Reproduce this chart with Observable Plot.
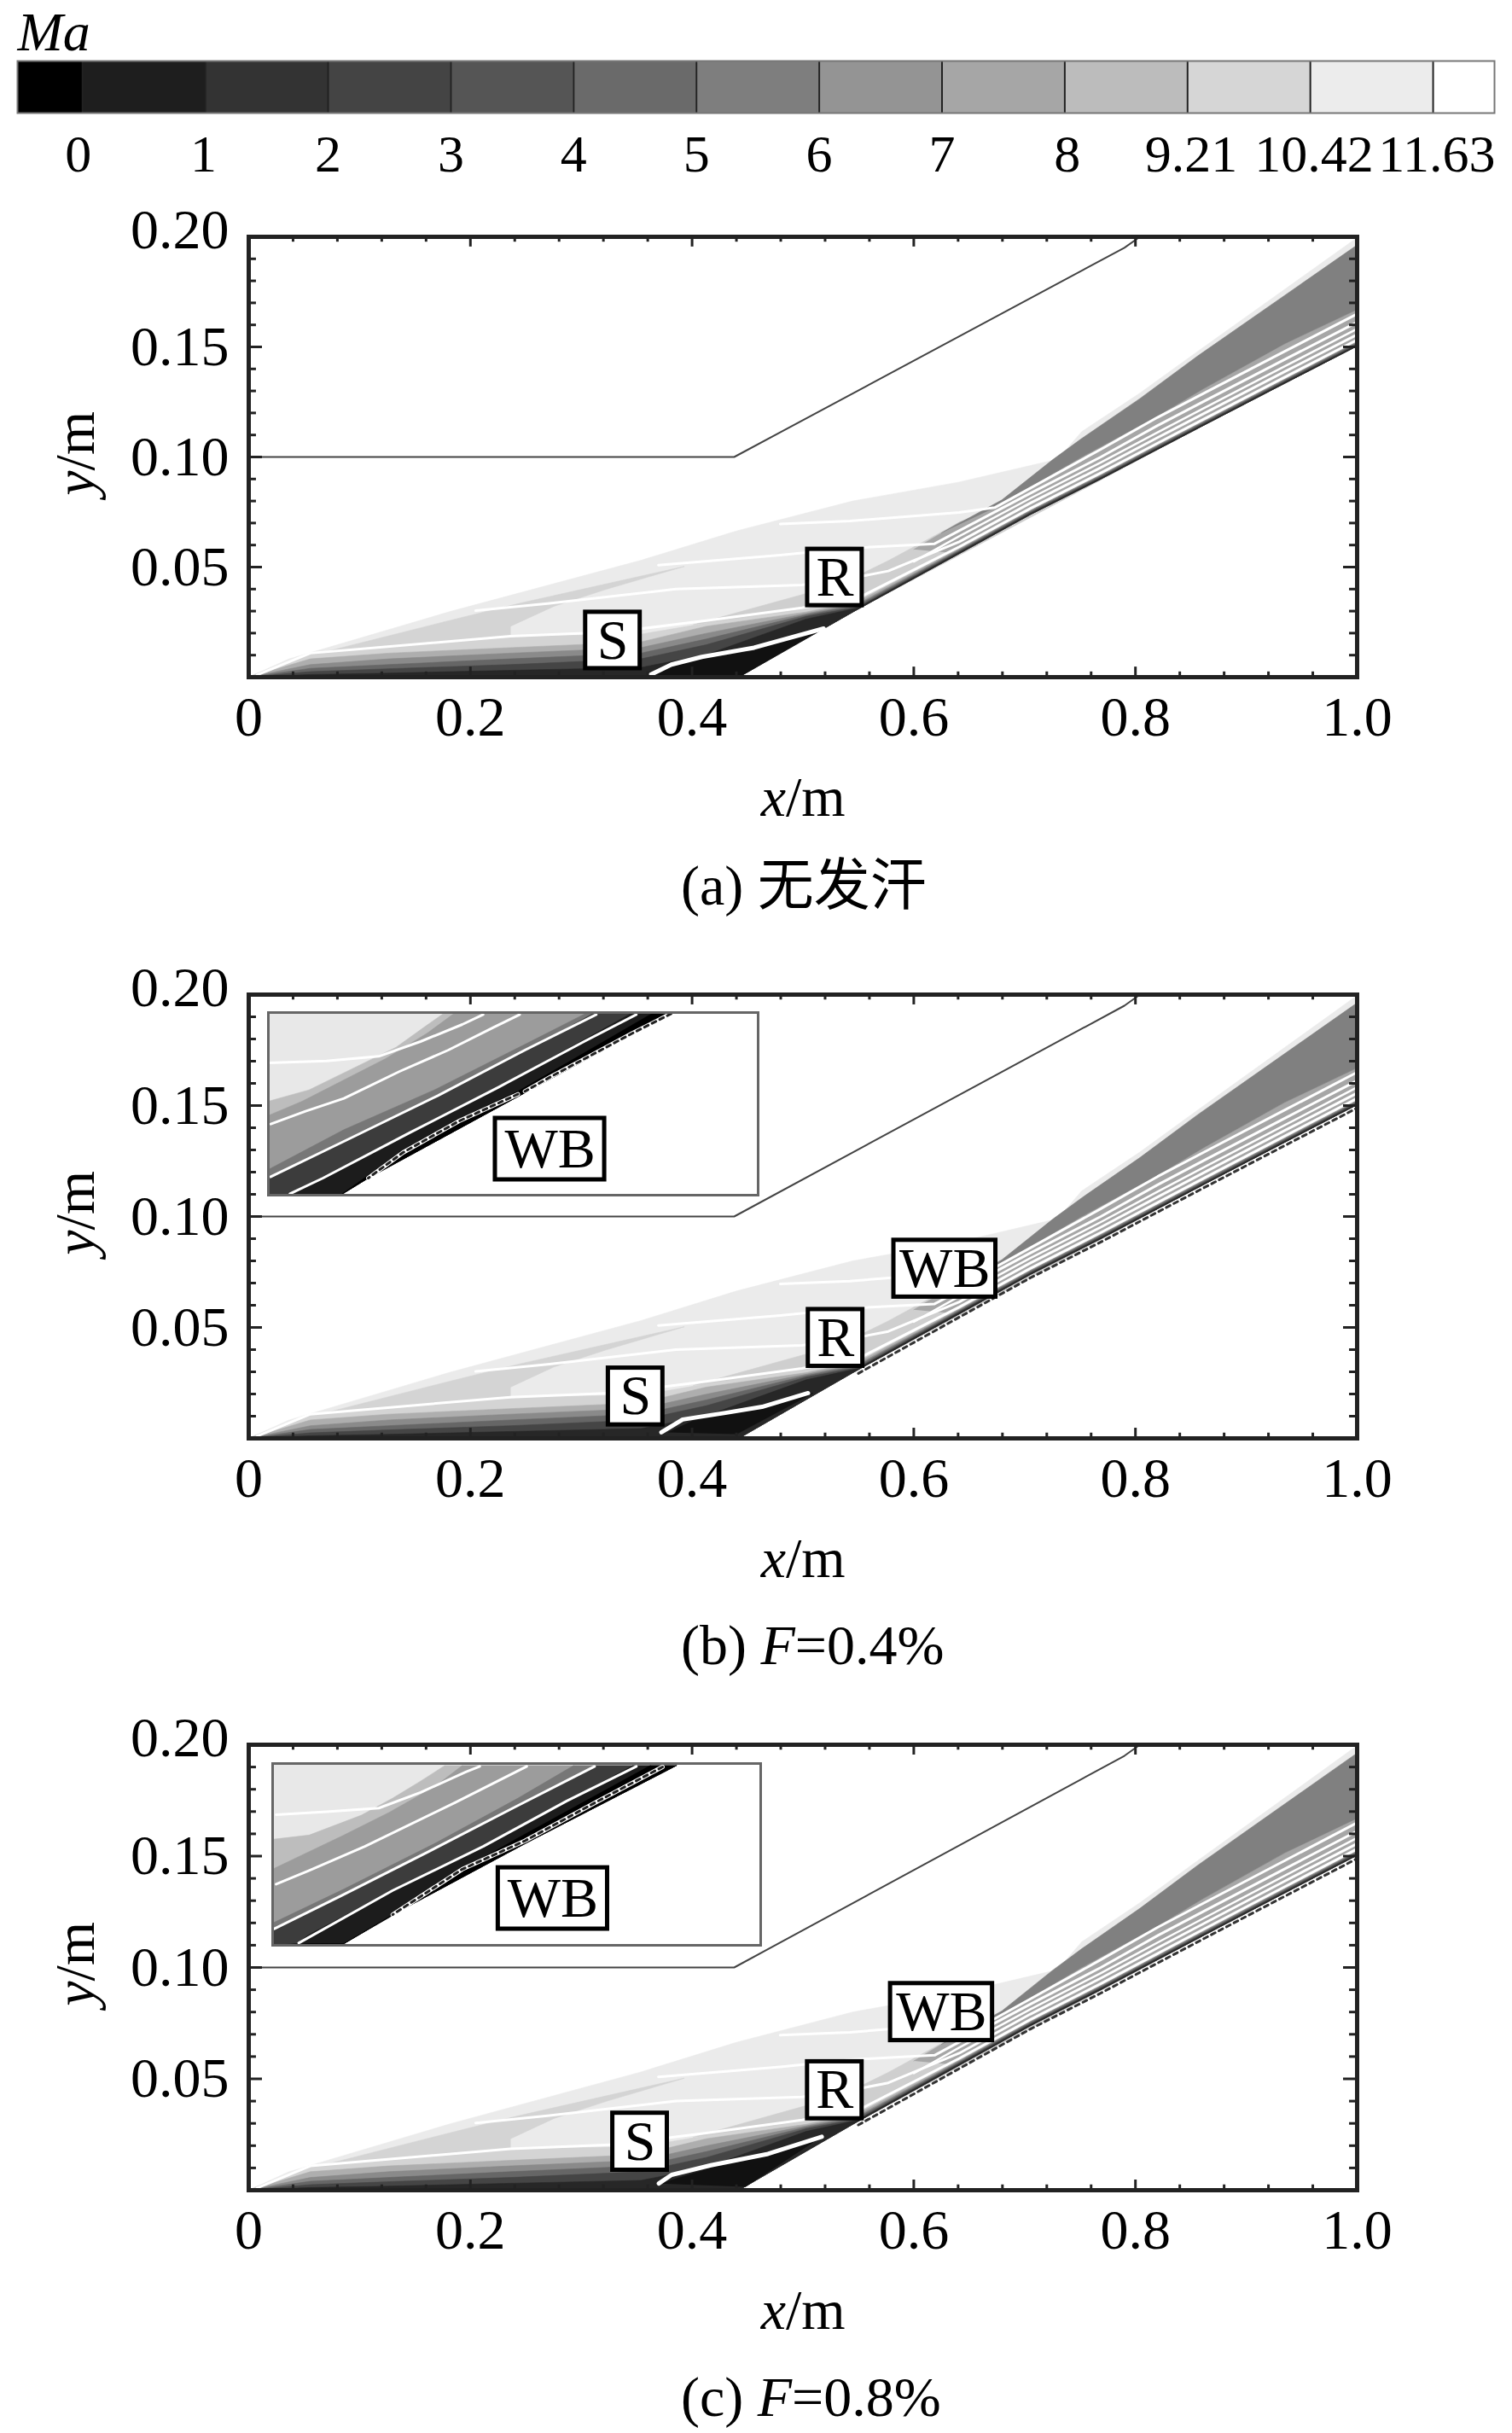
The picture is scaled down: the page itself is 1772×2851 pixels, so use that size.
<!DOCTYPE html>
<html><head><meta charset="utf-8">
<script src="https://cdn.jsdelivr.net/npm/d3@7"></script>
<script src="https://cdn.jsdelivr.net/npm/@observablehq/plot@0.6"></script>
<style>
html,body{margin:0;padding:0;background:#fff}
#page{position:relative;width:1772px;height:2851px;overflow:hidden;font-family:"Liberation Serif",serif;color:#000}
#page>*{position:absolute}
.cap{left:798px;font-size:66px;line-height:1;white-space:nowrap;font-family:"Liberation Serif","Noto Sans CJK SC",serif}
</style></head><body><div id="page"></div>
<script>
// ---- colour bar ----
const barLabels=["0","1","2","3","4","5","6","7","8","9.21","10.42","11.63"];
const barLabelAt=[-.035,.985,2,3,4,5,6,7,8.02,9.03,10.03,11.03];
const barEdges=[-0.53,0,1,2,3,4,5,6,7,8,9,10,11,11.5];
const barColors=["#000","#1e1e1e","#333","#444","#555","#6a6a6a","#7e7e7e","#949494","#a6a6a6","#bcbcbc","#d6d6d6","#ececec","#fff"];
// ---- axes ----
const xMajor=[0,.2,.4,.6,.8,1];
const xLabels=["0","0.2","0.4","0.6","0.8","1.0"];
const xMinor=[.04,.08,.12,.16,.24,.28,.32,.36,.44,.48,.52,.56,.64,.68,.72,.76,.84,.88,.92,.96];
const yMajor=[.05,.1,.15];
const yMinor=[.01,.02,.03,.04,.06,.07,.08,.09,.11,.12,.13,.14,.16,.17,.18,.19];
// ---- flow field outlines (x/m, y/m) ----
const wall=[[0,0],[.442,0],[.545,.0296],[.641,.0561],[.705,.0738],[.7688,.09],[.82,.1035],[.8646,.1152],[.9348,.1335],[1,.1504]];
const upperWall=[[0,.1],[.438,.1],[.79,.195],[.804,.2]];
const outerEdge=[[0,0],[.036,.0082],[.181,.0297],[.354,.0531],[.44,.0664],[.545,.08],[.64,.0885],[.73,.099],[.7515,.1115],[.8039,.129],[.8562,.148],[.998,.1989],[1,.1989]];
const patchUpper=[[.0046,.0005],[.0438,.0083],[.181,.0257],[.244,.0335],[.393,.0503],[.3225,.0399],[.2754,.0322],[.2361,.0231],[.2361,.0186],[.0556,.0108]];
const patchLower=[[.401,.0238],[.503,.038],[.5454,.0451],[.577,.0529],[.641,.0703],[.673,.0755],[1,.1504],[.8646,.1152],[.55,.031]];
const midBand=[[.6,.058],[.641,.0703],[.6795,.0785],[.7254,.0923],[.7515,.1],[.8196,.1185],[.8614,.131],[.9348,.1515],[1,.167],[1,.1504],[.9348,.1335],[.8646,.1152],[.82,.1035],[.7688,.09],[.705,.0738],[.641,.0561]];
const grayBand=[[.625,.0655],[.6795,.0805],[.7254,.0988],[.7515,.1084],[.8039,.1265],[.8562,.1459],[1,.1963],[1,.167],[.9348,.1515],[.8614,.131],[.8196,.1185],[.7515,.1],[.7254,.0923],[.6795,.0785]];
const blEdge0=[[.004,.001],[.0556,.0108],[.2361,.0186],[.3539,.0195],[.4127,.0245],[.503,.031],[.55,.036],[.641,.059],[.705,.0763],[.7688,.0925],[.82,.106],[.8646,.1177],[.9348,.136],[1,.1529]];
const blEdge1=[[.004,.0005],[.0556,.0083],[.1262,.0109],[.2361,.0134],[.3539,.016],[.4127,.0231],[.503,.0296],[.55,.0345],[.641,.0585],[.705,.076],[.7688,.0922],[.82,.1057],[.8646,.1174],[.9348,.1357],[1,.1526]];
const blEdge2=[[.004,.0004],[.0556,.0057],[.1262,.0083],[.2361,.0109],[.3539,.0134],[.4127,.0199],[.503,.0289],[.55,.0335],[.641,.058],[.705,.0756],[.7688,.0918],[.82,.1053],[.8646,.117],[.9348,.1353],[1,.1522]];
const blEdge3=[[.004,.0003],[.0556,.004],[.1262,.0057],[.2361,.0083],[.3539,.0109],[.4127,.0173],[.503,.0283],[.55,.0328],[.641,.0576],[.705,.0752],[.7688,.0914],[.82,.1049],[.8646,.1166],[.9348,.1349],[1,.1518]];
const blEdge4=[[.004,.0002],[.0556,.0025],[.1262,.0038],[.2361,.0057],[.3539,.0083],[.4127,.0147],[.503,.0276],[.55,.032],[.641,.0571],[.705,.0747],[.7688,.0909],[.82,.1044],[.8646,.1161],[.9348,.1344],[1,.1513]];
const blEdge5=[[.004,.0001],[.0556,.0012],[.1262,.0018],[.2361,.0031],[.3539,.0044],[.4127,.0102],[.503,.0264],[.55,.0315],[.641,.0566],[.705,.0742],[.7688,.0904],[.82,.1039],[.8646,.1156],[.9348,.1339],[1,.1508]];
const lineA=[[.0075,.001],[.0556,.0109],[.2361,.0186],[.33,.0205],[.4127,.0257],[.4991,.0315],[.55,.036],[.641,.0592],[.705,.0766],[.7688,.0928],[.82,.1063],[.8646,.118],[.9348,.1363],[1,.1532]];
const lineB=[[.2047,.0302],[.2714,.0335],[.3853,.04],[.4991,.0419],[.5454,.0451],[.577,.0482],[.641,.0615],[.705,.079],[.7688,.0952],[.82,.1088],[.8646,.1205],[.9348,.1388],[1,.1556]];
const lineE=[[.6,.0525],[.641,.064],[.705,.0812],[.7688,.0975],[.82,.1112],[.8646,.1229],[.9348,.1412],[1,.1582]];
const lineC=[[.3696,.0509],[.4795,.0554],[.5454,.0587],[.6188,.0606],[.641,.0665],[.705,.0835],[.7688,.1],[.82,.1143],[.8646,.126],[.9348,.1443],[1,.1612]];
const lineD=[[.4795,.0696],[.5423,.0709],[.641,.0748],[.673,.077],[.705,.0858],[.7688,.1035],[.82,.118],[.8646,.1297],[.9348,.148],[1,.165]];
const wallBubble=[[.55,.0293],[.641,.0546],[.705,.0723],[.7688,.0885],[.82,.102],[.8646,.1137],[.9348,.132],[1,.1489]];
const bubbleA=[[.3617,.0009],[.4,.0075],[.456,.012],[.517,.0218],[.442,0]];
const sepA=[[.3617,.0009],[.3813,.0057],[.4088,.0092],[.4559,.0134],[.5187,.0221]];
const bubbleB=[[.3785,.0027],[.4046,.0088],[.4631,.0135],[.5092,.0204],[.44,.0019]];
const sepB=[[.3723,.0027],[.3915,.0085],[.43,.0115],[.4631,.0142],[.5046,.0204]];
const bubbleC=[[.3715,.003],[.417,.01],[.4685,.0157],[.509,.0215],[.448,.0015]];
const sepC=[[.37,.003],[.3815,.0069],[.417,.0112],[.4685,.0163],[.517,.024]];
// annotation boxes
const labelsA=[{t:"S",x:.3285,y:.0167},{t:"R",x:.5288,y:.0453}];
const labelsB=[{t:"S",x:.349,y:.0189},{t:"R",x:.5294,y:.0453},{t:"WB",x:.628,y:.0765}];
const labelsC=[{t:"S",x:.353,y:.0218},{t:"R",x:.5287,y:.0449},{t:"WB",x:.625,y:.08}];
// ---- inset outlines, in the inset's own picture units ----
const insetB={
 box:[83,1490,750,108],
 gas:[[83,108],[1245,108],[820,390],[370,690],[290,750],[83,750]],
 wall:[[83,750],[290,750],[370,690],[820,390],[1245,108]],
 levels:[
  [[590,108],[530,160],[450,230],[300,320],[200,380],[83,420]],
  [[620,108],[540,180],[420,270],[300,345],[180,420],[83,470]],
  [[1000,108],[820,220],[560,380],[300,520],[83,660]],
  [[1020,108],[830,240],[570,400],[310,555],[90,690],[83,700]],
  [[1130,108],[745,370],[490,530],[240,690],[150,750],[83,750]],
  [[1190,108],[800,385],[620,490],[370,680],[290,750],[170,750]]],
 lines:[
  [[83,285],[250,278],[400,262],[520,210],[640,150],[700,115]],
  [[90,500],[190,455],[300,410],[460,315],[600,240],[730,160],[805,115]],
  [[90,685],[310,555],[570,400],[820,240],[1025,115]],
  [[145,745],[240,690],[490,530],[745,370],[990,210],[1140,115]]],
 bubble:[[[1240,112],[1130,180],[1000,265],[900,330],[820,385]],[[800,395],[630,490],[470,600],[370,690]]],
 label:{t:"WB",x:892,y:588}
};
const insetC={
 box:[95,1497,718,78],
 gas:[[95,78],[1255,85],[820,360],[440,610],[300,712],[95,718]],
 wall:[[95,718],[300,712],[440,610],[820,360],[1255,85]],
 levels:[
  [[590,85],[520,140],[440,200],[350,260],[200,330],[95,345]],
  [[640,85],[560,160],[430,250],[300,330],[180,400],[95,450]],
  [[960,85],[800,200],[560,360],[300,520],[95,640]],
  [[1020,85],[800,230],[540,390],[290,545],[95,660]],
  [[1130,85],[940,210],[700,370],[440,525],[200,680],[165,712],[95,718]],
  [[1180,85],[800,340],[600,480],[430,620],[300,712],[200,712]]],
 lines:[
  [[105,258],[250,248],[400,235],[520,180],[650,108],[690,88]],
  [[105,503],[200,455],[360,370],[620,215],[825,88]],
  [[100,660],[290,545],[540,390],[790,232],[1020,88]],
  [[170,710],[440,525],[700,370],[940,210],[1140,88]]],
 bubble:[[[1215,90],[1030,210],[820,350],[640,450],[440,610]]],
 label:{t:"WB",x:900,y:553}
};
const insetFills=["#bdbdbd","#9c9c9c","#777","#3c3c3c","#1c1c1c","#000"];

const serif="Liberation Serif";
const px=d=>d[0], py=d=>d[1];
const poly=(pts,c)=>Plot.line(pts,{x:px,y:py,fill:c,stroke:c,strokeWidth:.6});
const stream=(pts,w=3)=>Plot.line(pts,{x:px,y:py,stroke:"#fff",strokeWidth:w});
const down=e=>e.concat(wall.slice().reverse());
const page=document.getElementById("page");
function place(el,left,top){el.style.position="absolute";el.style.left=left+"px";el.style.top=top+"px";page.appendChild(el);}

// colour bar
const bar=Plot.plot({width:1772,height:232,marginLeft:20,marginRight:21,marginTop:71,marginBottom:100,
 style:{fontFamily:serif,fontSize:"62px",background:"transparent",color:"#000"},
 x:{domain:[-0.53,11.5],axis:null},y:{domain:[0,1],axis:null},
 marks:[
  Plot.rect(barColors.map((c,i)=>({c,a:barEdges[i],b:barEdges[i+1]})),{x1:"a",x2:"b",y1:0,y2:1,fill:d=>d.c}),
  Plot.ruleX(barEdges.slice(1,-1),{x:d=>d,y1:0,y2:1,stroke:"#222",strokeWidth:2}),
  Plot.frame({stroke:"#777",strokeWidth:2}),
  Plot.axisX(barLabelAt,{anchor:"bottom",tickSize:0,tickPadding:24,label:null,tickFormat:d=>barLabels[barLabelAt.indexOf(d)]}),
  Plot.text(["Ma"],{frameAnchor:"top-left",dy:-58,fontStyle:"italic",fontSize:64,textAnchor:"start"})
 ]});
place(bar,0,0);

function panel(frameH,labels,bubble,sep,hasWB){
 const lab=d=>d.t==="WB"?.046:.0246;
 return Plot.plot({width:1772,height:67+frameH+210,marginLeft:291,marginRight:182,marginTop:67,marginBottom:210,
  style:{fontFamily:serif,fontSize:"66px",background:"transparent",color:"#000"},
  x:{domain:[0,1],axis:null},y:{domain:[0,.2],axis:null},
  marks:[
   poly(down(outerEdge),"#ebebeb"),
   poly(patchUpper,"#d4d4d4"),
   poly(patchLower,"#cfcfcf"),
   poly(midBand,"#a6a6a6"),
   poly(grayBand,"#808080"),
   poly(down(blEdge0),"#d4d4d4"),
   poly(down(blEdge1),"#aeaeae"),
   poly(down(blEdge2),"#8a8a8a"),
   poly(down(blEdge3),"#666"),
   poly(down(blEdge4),"#454545"),
   poly(down(blEdge5),"#272727"),
   poly(bubble,"#111"),
   stream(sep,5),
   stream(lineA),stream(lineB),stream(lineE,2.5),stream(lineC),stream(lineD),
   hasWB?Plot.line(wallBubble,{x:px,y:py,stroke:"#333",strokeWidth:3,strokeDasharray:"5 5"}):null,
   Plot.line(upperWall,{x:px,y:py,stroke:"#444",strokeWidth:2}),
   // ticks
   Plot.ruleX(xMajor,{x:d=>d,y1:0,y2:.0046,stroke:"#222",strokeWidth:3}),
   Plot.ruleX(xMinor,{x:d=>d,y1:0,y2:.0024,stroke:"#222",strokeWidth:3}),
   Plot.ruleX(xMajor,{x:d=>d,y1:.2,y2:.1954,stroke:"#222",strokeWidth:3}),
   Plot.ruleX(xMinor,{x:d=>d,y1:.2,y2:.1976,stroke:"#222",strokeWidth:3}),
   Plot.ruleY(yMajor,{y:d=>d,x1:0,x2:.0123,stroke:"#222",strokeWidth:3}),
   Plot.ruleY(yMinor,{y:d=>d,x1:0,x2:.0069,stroke:"#222",strokeWidth:3}),
   Plot.ruleY(yMajor,{y:d=>d,x1:1,x2:.9877,stroke:"#222",strokeWidth:3}),
   Plot.ruleY(yMinor,{y:d=>d,x1:1,x2:.9931,stroke:"#222",strokeWidth:3}),
   Plot.frame({stroke:"#222",strokeWidth:5}),
   // boxed labels
   Plot.rect(labels,{x1:d=>d.x-lab(d),x2:d=>d.x+lab(d),y1:d=>d.y-.0128,y2:d=>d.y+.0128,fill:"#fff",stroke:"#000",strokeWidth:5}),
   Plot.text(labels,{x:"x",y:"y",text:"t",fill:"#000",fontSize:66}),
   // axes
   Plot.axisX(xMajor,{anchor:"bottom",tickSize:0,tickPadding:22,label:null,tickFormat:(d,i)=>xLabels[i]}),
   Plot.axisY(yMajor,{anchor:"left",tickSize:0,tickPadding:23,label:null,tickFormat:d=>d.toFixed(2)}),
   Plot.axisY([.2],{anchor:"left",tickSize:0,tickPadding:23,label:null,dy:-8,tickFormat:d=>d.toFixed(2)}),
   Plot.text(["x"],{frameAnchor:"bottom",dx:-20,dy:162,textAnchor:"end",fontStyle:"italic",fill:"#000"}),
   Plot.text(["/m"],{frameAnchor:"bottom",dx:-20,dy:162,textAnchor:"start",fill:"#000"}),
   Plot.text(["y"],{frameAnchor:"left",dx:-203,dy:16,rotate:-90,textAnchor:"end",fontStyle:"italic",fill:"#000"}),
   Plot.text(["/m"],{frameAnchor:"left",dx:-203,dy:16,rotate:-90,textAnchor:"start",fill:"#000"})
  ].filter(Boolean)});
}
function inset(cfg,w,h){
 const [x0,x1,y0,y1]=cfg.box;
 const hw=157,hh=108;
 return Plot.plot({width:w,height:h,margin:0,
  style:{fontFamily:serif,fontSize:"66px",background:"#fff",color:"#000",overflow:"visible"},
  x:{domain:[x0,x1],axis:null},y:{domain:[y0,y1],axis:null},
  marks:[
   poly(cfg.gas,"#e8e8e8"),
   ...cfg.levels.map((e,i)=>poly(e.concat(cfg.wall),insetFills[i])),
   ...cfg.bubble.map(b=>Plot.line(b,{x:px,y:py,stroke:"#fff",strokeWidth:5})),
   ...cfg.bubble.map(b=>Plot.line(b,{x:px,y:py,stroke:"#222",strokeWidth:3,strokeDasharray:"5 5"})),
   ...cfg.lines.map(l=>stream(l,3)),
   Plot.frame({stroke:"#666",strokeWidth:3}),
   Plot.rect([cfg.label],{x1:d=>d.x-hw,x2:d=>d.x+hw,y1:d=>d.y-hh,y2:d=>d.y+hh,fill:"#fff",stroke:"#000",strokeWidth:5}),
   Plot.text([cfg.label],{x:"x",y:"y",text:"t",fill:"#000",fontSize:66})
  ]});
}
place(panel(516,labelsA,bubbleA,sepA,false),0,210);
place(panel(520,labelsB,bubbleB,sepB,true),0,1098);
place(panel(522,labelsC,bubbleC,sepC,true),0,1977);
place(inset(insetB,574,214),314,1186);
place(inset(insetC,572,213),319,2066);

function caption(top,parts){
 const d=document.createElement("div");d.className="cap";d.style.top=top+"px";
 parts.forEach(([t,it])=>{const s=document.createElement("span");s.textContent=t;if(it)s.style.fontStyle="italic";d.appendChild(s);});
 page.appendChild(d);
}
caption(1005,[["(a) 无发汗",false]]);
caption(1895,[["(b) ",false],["F",true],["=0.4%",false]]);
caption(2776,[["(c) ",false],["F",true],["=0.8%",false]]);
</script></body></html>
